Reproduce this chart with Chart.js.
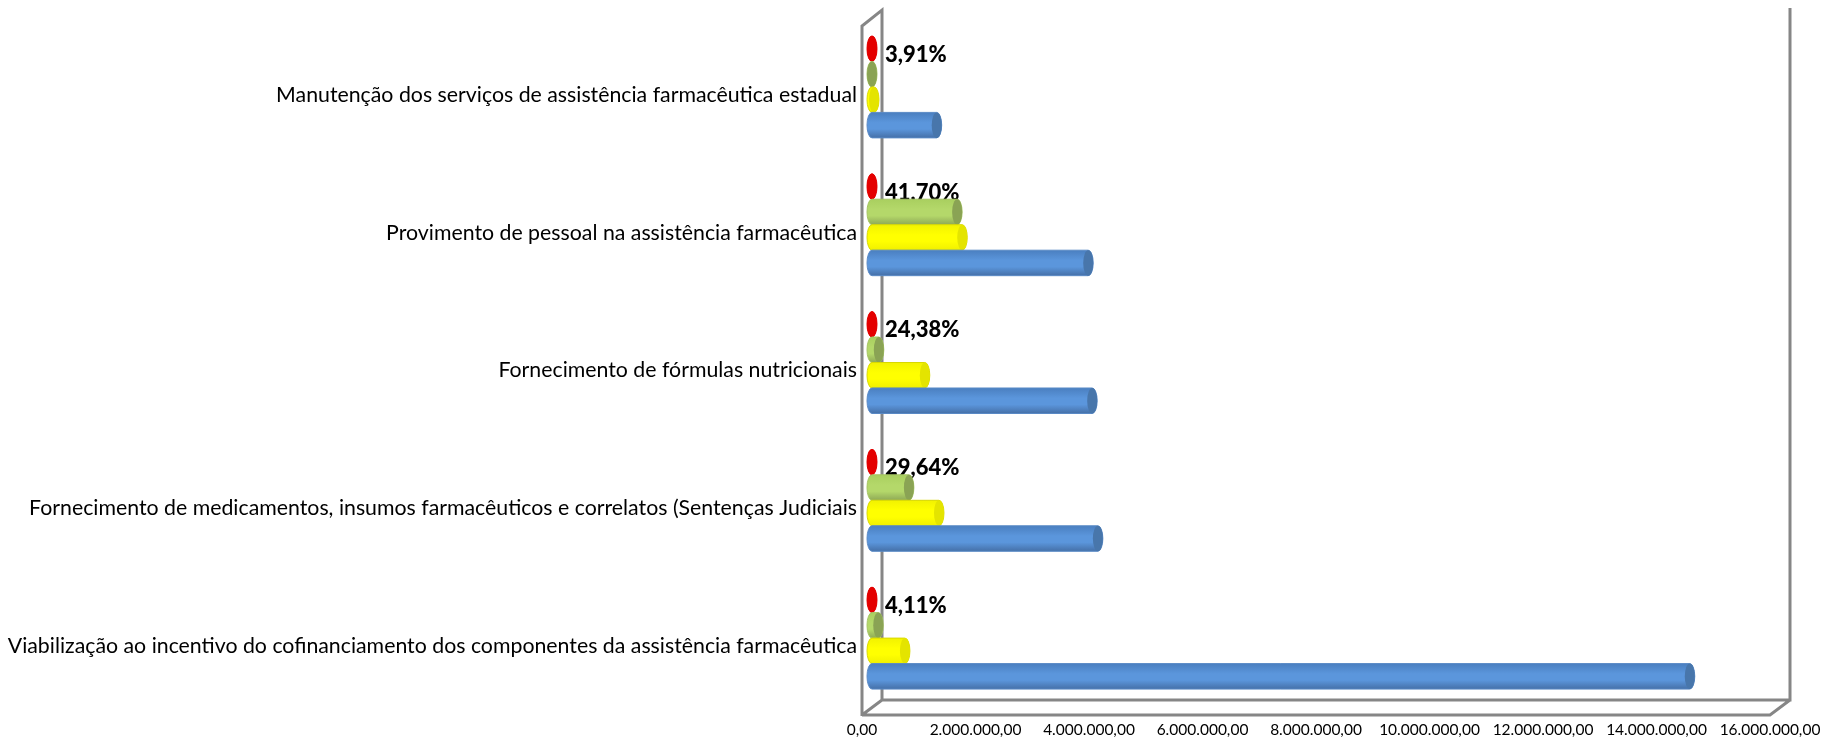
<!DOCTYPE html>
<html>
<head>
<meta charset="utf-8">
<script src="https://cdn.jsdelivr.net/npm/chart.js@4"></script>
<style>
  html, body { margin: 0; padding: 0; background: #fff; }
  canvas { display: block; }
</style>
</head>
<body>
<canvas id="chart" width="1823" height="741"></canvas>
<script>
// categories, top of the chart first
const categories = [
    "Manutenção dos serviços de assistência farmacêutica estadual",
    "Provimento de pessoal na assistência farmacêutica",
    "Fornecimento de fórmulas nutricionais",
    "Fornecimento de medicamentos, insumos farmacêuticos e correlatos (Sentenças Judiciais",
    "Viabilização ao incentivo do cofinanciamento dos componentes da assistência farmacêutica"
];

// values
const redValues = [0, 0, 0, 0, 0];
const greenValues = [0, 1500000, 120000, 650000, 110000];
const yellowValues = [35000, 1590000, 930000, 1180000, 580000];
const blueValues = [1140000, 3810000, 3880000, 3980000, 14410000];
const percentLabels = ["3,91%", "41,70%", "24,38%", "29,64%", "4,11%"];

// cylinder colours: edge, middle, bottom, cap
const cylinderStyles = [
    { top: "#e00000", mid: "#e80000", bottom: "#d80000", cap: "#e40000", line: "#e00000" },
    { top: "#a9cf5f", mid: "#b4d86a", bottom: "#8fa956", cap: "#8aa354", line: "#a5c463" },
    { top: "#f2f200", mid: "#ffff00", bottom: "#f0f000", cap: "#e4e400", line: "#d8d800" },
    { top: "#4a7fc0", mid: "#5b96dc", bottom: "#4570a8", cap: "#4876ab", line: "#5a8ac6" }
];

const depthX = 10;
const depthY = 8;
const capRadius = 5;

// grey frame of the 3D box, goes behind the bars
const boxPlugin = {
    id: "box3d",
    beforeDatasetsDraw(chart) {
        const { ctx, chartArea: a } = chart;
        const dx = 20, dy = 15;
        ctx.save();
        ctx.strokeStyle = "#868686";
        ctx.lineWidth = 3;
        ctx.beginPath();
        ctx.moveTo(a.left, a.bottom + 1);
        ctx.lineTo(a.left, a.top);
        ctx.lineTo(a.left + dx, a.top - 16);
        ctx.lineTo(a.left + dx, a.bottom - dy);
        ctx.lineTo(a.right + dx, a.bottom - dy);
        ctx.lineTo(a.right + dx, 8);
        ctx.moveTo(a.left, a.bottom);
        ctx.lineTo(a.right, a.bottom);
        ctx.lineTo(a.right + dx, a.bottom - dy);
        ctx.moveTo(a.left, a.bottom);
        ctx.lineTo(a.left + dx, a.bottom - dy);
        ctx.stroke();
        ctx.restore();
    }
};

function drawCylinder(ctx, el, style) {
    const p = el.getProps(["x", "y", "base", "height"], true);
    const x0 = p.base + depthX;
    const x1 = p.x + depthX;
    const cy = p.y - depthY;
    const ry = p.height / 2;

    const grad = ctx.createLinearGradient(0, cy - ry, 0, cy + ry);
    grad.addColorStop(0, style.top);
    grad.addColorStop(0.4, style.mid);
    grad.addColorStop(0.65, style.mid);
    grad.addColorStop(1, style.bottom);

    ctx.fillStyle = grad;
    ctx.strokeStyle = style.line;
    ctx.lineWidth = 1;
    ctx.beginPath();
    ctx.ellipse(x0, cy, capRadius, ry, 0, Math.PI / 2, Math.PI * 1.5);
    ctx.lineTo(x1, cy - ry);
    ctx.ellipse(x1, cy, capRadius, ry, 0, -Math.PI / 2, Math.PI / 2);
    ctx.closePath();
    ctx.fill();
    ctx.stroke();

    ctx.fillStyle = style.cap;
    ctx.beginPath();
    ctx.ellipse(x1, cy, capRadius, ry, 0, 0, Math.PI * 2);
    ctx.fill();
}

// draws every bar as a cylinder at the spot the scales gave it
const cylinderPlugin = {
    id: "cylinders",
    afterDatasetsDraw(chart) {
        const ctx = chart.ctx;
        ctx.save();
        chart.data.datasets.forEach((dataset, i) => {
            const meta = chart.getDatasetMeta(i);
            meta.data.forEach((el) => drawCylinder(ctx, el, cylinderStyles[i]));

            // percent labels sit next to the red bars, under the green ones
            if (i === 0) {
                ctx.fillStyle = "#000";
                ctx.font = "900 22px Lato";
                ctx.textAlign = "left";
                ctx.textBaseline = "middle";
                meta.data.forEach((el, j) => {
                    ctx.fillText(percentLabels[j], el.base + 23, el.y - depthY + 6);
                });
            }
        });
        ctx.restore();
    }
};

function makeDataset(values) {
    return {
        data: values,
        backgroundColor: "transparent",
        borderWidth: 0,
        categoryPercentage: 0.74,
        barPercentage: 1
    };
}

new Chart(document.getElementById("chart"), {
    type: "bar",
    data: {
        labels: categories,
        datasets: [
            makeDataset(redValues),
            makeDataset(greenValues),
            makeDataset(yellowValues),
            makeDataset(blueValues)
        ]
    },
    options: {
        indexAxis: "y",
        responsive: false,
        animation: false,
        layout: { padding: { top: 26, right: 53, bottom: 0, left: 0 } },
        plugins: {
            legend: { display: false },
            title: { display: false },
            tooltip: { enabled: false }
        },
        scales: {
            x: {
                min: 0,
                max: 16000000,
                grid: { display: false, drawTicks: false },
                border: { display: false },
                afterFit(scale) {
                    // keep the plot edge fixed, the last label may stick out
                    scale.height = 26;
                    scale.paddingLeft = 0;
                    scale.paddingRight = 0;
                },
                ticks: {
                    stepSize: 2000000,
                    padding: 6,
                    maxRotation: 0,
                    autoSkip: false,
                    color: "#000",
                    font: { family: "Lato", size: 15.5 },
                    callback(value) {
                        return value.toLocaleString("pt-BR", { minimumFractionDigits: 2 });
                    }
                }
            },
            y: {
                grid: { display: false, drawTicks: false },
                border: { display: false },
                afterFit(scale) { scale.width = 862; },
                ticks: {
                    padding: 5,
                    autoSkip: false,
                    color: "#000",
                    font: { family: "Lato", size: 21.3 }
                }
            }
        }
    },
    plugins: [boxPlugin, cylinderPlugin]
});
</script>
</body>
</html>
